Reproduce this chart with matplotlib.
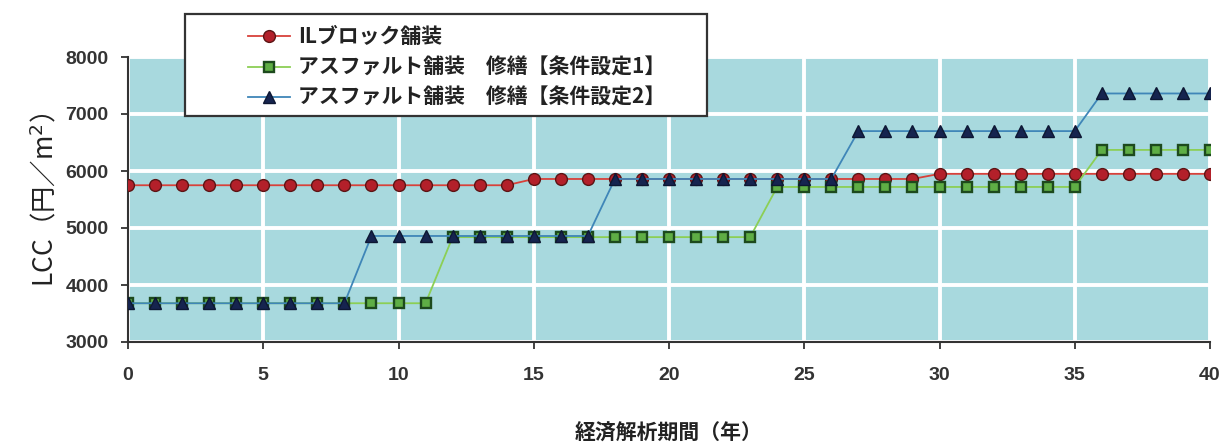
#LCC比較グラフ (ILブロック舗装 vs アスファルト舗装)

import numpy as np
import matplotlib
matplotlib.use('Agg')
import matplotlib.pyplot as plt
from matplotlib.patches import Rectangle

plt.rcParams['font.family'] = ['Noto Sans CJK JP', 'DejaVu Sans']

years = np.arange(0, 41)

il_block = [5750, 5750, 5750, 5750, 5750, 5750, 5750, 5750, 5750, 5750,
            5750, 5750, 5750, 5750, 5750, 5860, 5860, 5860, 5860, 5860,
            5860, 5860, 5860, 5860, 5860, 5860, 5860, 5860, 5860, 5860,
            5950, 5950, 5950, 5950, 5950, 5950, 5950, 5950, 5950, 5950,
            5950]

asphalt_1 = [3680, 3680, 3680, 3680, 3680, 3680, 3680, 3680, 3680, 3680,
             3680, 3680, 4840, 4840, 4840, 4840, 4840, 4840, 4840, 4840,
             4840, 4840, 4840, 4840, 5720, 5720, 5720, 5720, 5720, 5720,
             5720, 5720, 5720, 5720, 5720, 5720, 6370, 6370, 6370, 6370,
             6370]

asphalt_2 = [3680, 3680, 3680, 3680, 3680, 3680, 3680, 3680, 3680, 4860,
             4860, 4860, 4860, 4860, 4860, 4860, 4860, 4860, 5860, 5860,
             5860, 5860, 5860, 5860, 5860, 5860, 5860, 6700, 6700, 6700,
             6700, 6700, 6700, 6700, 6700, 6700, 7360, 7360, 7360, 7360,
             7360]

labels = ['ILブロック舗装',
          'アスファルト舗装　修繕【条件設定1】',
          'アスファルト舗装　修繕【条件設定2】']

fig = plt.figure(figsize=(12.26, 4.42), dpi=100)
ax = fig.add_axes([128/1226, 1-342/442, (1210-128)/1226, (342-57)/442])
ax.set_facecolor('#a8d9de')

ax.plot(years, il_block, '-', c='#d8413a', lw=1.3, marker='o', ms=8.5,
        mfc='#b3202a', mec='#5c1414', mew=1.0, label=labels[0], zorder=3)
ax.plot(years, asphalt_1, '-', c='#8ccf55', lw=1.3, marker='s', ms=7.2,
        mfc='#5fae45', mec='#1d4a1d', mew=1.7, label=labels[1], zorder=4)
ax.plot(years, asphalt_2, '-', c='#3f86b8', lw=1.3, marker='^', ms=8.5,
        mfc='#16244f', mec='#0d1733', mew=1.0, label=labels[2], zorder=5)

ax.set_xlim(0, 40)
ax.set_ylim(3000, 8000)
ax.set_xticks(range(0, 41, 5))
ax.set_yticks(range(3000, 8001, 1000))
ax.grid(True, color='white', lw=2.8)
ax.set_axisbelow(True)

for s in ['top', 'right']:
    ax.spines[s].set_visible(False)
for s in ['left', 'bottom']:
    ax.spines[s].set_color('#333333')
    ax.spines[s].set_linewidth(1.5)

ax.tick_params(axis='both', direction='out', length=5, width=1.3,
               color='#333333', labelcolor='#333333')
ax.tick_params(axis='x', pad=13)
ax.tick_params(axis='y', pad=9)
for t in ax.get_xticklabels() + ax.get_yticklabels():
    t.set_family(['Liberation Sans', 'DejaVu Sans'])
    t.set_fontsize(14)
    t.set_fontweight('bold')

ax.set_ylabel('LCC（円／m$^2$）', fontsize=19, color='#222222', labelpad=4)
ax.set_xlabel('経済解析期間（年）', fontsize=15, fontweight='bold',
              color='#222222', labelpad=28)

# 凡例の枠
fig.patches.append(Rectangle((185/1226, 1-116/442), (707-185)/1226, (116-14)/442,
                             transform=fig.transFigure, fill=True, fc='white',
                             ec='#333333', lw=1.6, zorder=10))
leg = fig.legend(loc='upper left', bbox_to_anchor=(238/1226, 1-16/442),
                 frameon=False, fontsize=15, handlelength=2.0,
                 handletextpad=0.4, labelspacing=0.45, borderpad=0)
leg.set_zorder(11)
for t in leg.get_texts():
    t.set_color('#222222')
    t.set_fontweight('bold')

fig.savefig('out.png', dpi=100)
